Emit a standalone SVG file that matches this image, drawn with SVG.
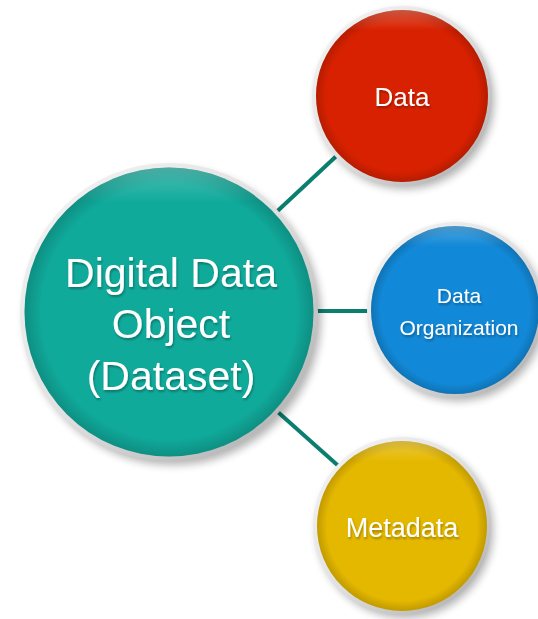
<svg xmlns="http://www.w3.org/2000/svg" width="538" height="619" viewBox="0 0 538 619">
  <defs>
    <style>
      .link { stroke: #0a7f70; stroke-width: 4; fill: none; }
      .rim { fill: url(#rimGrad); }
      .label { font-family: "Liberation Sans", Arial, sans-serif; fill: #ffffff; text-anchor: middle; filter: url(#textShadow); }
      .bevel { fill: url(#bevel); }
    </style>
    <linearGradient id="rimGrad" x1="0" y1="0" x2="1" y2="1">
      <stop offset="0" stop-color="#f6f6f6"/>
      <stop offset="0.5" stop-color="#e0e0e0"/>
      <stop offset="1" stop-color="#a8a8a8"/>
    </linearGradient>
    <radialGradient id="bevel" cx="0.5" cy="0.5" r="0.5">
      <stop offset="0.88" stop-color="#000000" stop-opacity="0"/>
      <stop offset="1" stop-color="#000000" stop-opacity="0.16"/>
    </radialGradient>
    <linearGradient id="gloss" x1="0" y1="0" x2="0" y2="1">
      <stop offset="0" stop-color="#ffffff" stop-opacity="0.25"/>
      <stop offset="0.12" stop-color="#ffffff" stop-opacity="0"/>
      <stop offset="1" stop-color="#ffffff" stop-opacity="0"/>
    </linearGradient>
    <filter id="dropShadow" x="-20%" y="-20%" width="140%" height="140%">
      <feGaussianBlur stdDeviation="4"/>
    </filter>
    <filter id="textShadow" x="-10%" y="-20%" width="120%" height="150%">
      <feDropShadow dx="1" dy="2" stdDeviation="1.2" flood-color="#000000" flood-opacity="0.3"/>
    </filter>
  </defs>

  <rect width="538" height="619" fill="#ffffff"/>

  <!-- connectors from the dataset to its parts -->
  <g id="connectors">
    <line class="link" x1="270" y1="218" x2="345" y2="148"/>
    <line class="link" x1="310" y1="311" x2="375" y2="311"/>
    <line class="link" x1="270" y1="405" x2="343" y2="470"/>
  </g>

  <!-- central node -->
  <g id="node-dataset">
    <circle cx="173" cy="317" r="148" fill="#000000" opacity="0.3" filter="url(#dropShadow)"/>
    <circle class="rim" cx="169" cy="312" r="149"/>
    <circle cx="169" cy="312" r="144.5" fill="#10aa9b"/>
    <circle class="bevel" cx="169" cy="312" r="144.5"/>
    <circle cx="169" cy="312" r="144.5" fill="url(#gloss)"/>
    <text class="label" x="171" y="287" font-size="41">Digital Data</text>
    <text class="label" x="171" y="338" font-size="41">Object</text>
    <text class="label" x="171" y="390" font-size="41">(Dataset)</text>
  </g>

  <!-- data node -->
  <g id="node-data">
    <circle cx="405" cy="100" r="89" fill="#000000" opacity="0.3" filter="url(#dropShadow)"/>
    <circle class="rim" cx="402" cy="96" r="90"/>
    <circle cx="402" cy="96" r="86" fill="#d82100"/>
    <circle class="bevel" cx="402" cy="96" r="86"/>
    <circle cx="402" cy="96" r="86" fill="url(#gloss)"/>
    <text class="label" x="402" y="106" font-size="26">Data</text>
  </g>

  <!-- data organization node -->
  <g id="node-organization">
    <circle cx="458" cy="314" r="87" fill="#000000" opacity="0.3" filter="url(#dropShadow)"/>
    <circle class="rim" cx="455" cy="310" r="88"/>
    <circle cx="455" cy="310" r="84" fill="#1289d8"/>
    <circle class="bevel" cx="455" cy="310" r="84"/>
    <circle cx="455" cy="310" r="84" fill="url(#gloss)"/>
    <text class="label" x="459" y="303" font-size="21">Data</text>
    <text class="label" x="459" y="335" font-size="21">Organization</text>
  </g>

  <!-- metadata node -->
  <g id="node-metadata">
    <circle cx="405" cy="530" r="88" fill="#000000" opacity="0.3" filter="url(#dropShadow)"/>
    <circle class="rim" cx="402" cy="526" r="89"/>
    <circle cx="402" cy="526" r="85" fill="#e5b800"/>
    <circle class="bevel" cx="402" cy="526" r="85"/>
    <circle cx="402" cy="526" r="85" fill="url(#gloss)"/>
    <text class="label" x="402" y="537" font-size="27">Metadata</text>
  </g>
</svg>
